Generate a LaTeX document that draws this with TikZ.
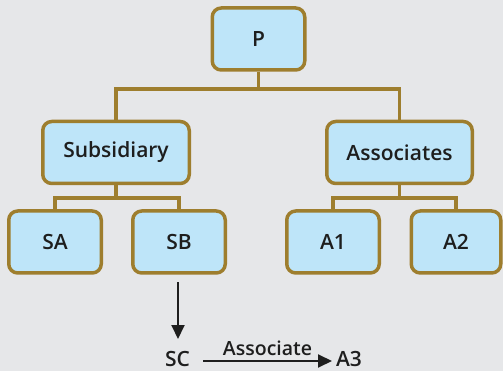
\documentclass[tikz,border=0pt]{standalone}
\usepackage{fontspec}
\setmainfont{Open Sans}
\newfontfamily\semib{Open Sans Semibold}
\usetikzlibrary{arrows.meta}
\pgfdeclarelayer{bottom}
\pgfdeclarelayer{links}
\pgfsetlayers{bottom,links,main}
\definecolor{bg}{HTML}{E6E7E9}
\definecolor{gold}{HTML}{9E7E2E}
\definecolor{boxfill}{HTML}{BEE5F9}
\definecolor{ink}{HTML}{1E1E1E}
\tikzset{
  orgbox/.style={draw=gold, fill=boxfill, line width=3.5pt, rounded corners=9pt,
    minimum height=62pt, inner sep=0pt, text=ink, font=\semib\fontsize{21}{25}\selectfont},
  link/.style={draw=gold, line width=3.5pt},
  blackarrow/.style={draw=ink, line width=2pt, -{Triangle[length=14pt,width=13pt]}},
  plain/.style={text=ink, inner sep=0pt, font=\semib\fontsize{21}{25}\selectfont},
}
\begin{document}
\begin{tikzpicture}[x=1pt,y=-1pt]
\begin{pgfonlayer}{bottom}
\fill[bg] (0,0) rectangle (503,371);
\end{pgfonlayer}
\useasboundingbox (0,0) rectangle (503,371);
% boxes
\node[orgbox, minimum width=92.5pt] (P) at (258.5,39) {P};
\node[orgbox, minimum width=146.5pt] (Sub) at (116,152.5) {Subsidiary};
\node[orgbox, minimum width=145.5pt] (Asc) at (399.5,152.5) {Associates};
\node[orgbox, minimum width=92.5pt] (SA) at (55,242) {SA};
\node[orgbox, minimum width=92.5pt] (SB) at (179,242) {SB};
\node[orgbox, minimum width=92.5pt] (A1) at (333,242) {A1};
\node[orgbox, minimum width=89.5pt] (A2) at (456,242) {A2};
% connectors
\coordinate (j1) at (258.5,89);
\coordinate (j2) at (116,198);
\coordinate (j3) at (399.5,198);
\begin{pgfonlayer}{links}
\draw[link] (P.south) -- (j1);
\draw[link] (j1) -| (Sub.north);
\draw[link] (j1) -| (Asc.north);
\draw[link] (Sub.south) -- (j2);
\draw[link] (j2) -| (SA.north);
\draw[link] (j2) -| (SB.north);
\draw[link] (Asc.south) -- (j3);
\draw[link] (j3) -| (A1.north);
\draw[link] (j3) -| (A2.north);
\end{pgfonlayer}
% bottom part
\node[plain] (SC) at (177.5,359) {SC};
\node[plain] (A3) at (349,359) {A3};
\coordinate (sbdown) at (178,282);
\coordinate (scup) at (178,339);
\coordinate (sce) at (203,361);
\coordinate (a3w) at (332,361);
\draw[blackarrow] (sbdown) -- (scup);
\draw[blackarrow] (sce) -- node[above=4pt, text=ink, inner sep=0pt, font=\semib\fontsize{19.5}{22}\selectfont] {Associate} (a3w);
\end{tikzpicture}
\end{document}
